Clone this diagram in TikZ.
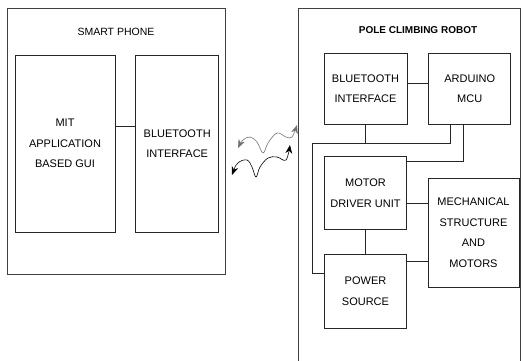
\documentclass[tikz,border=0pt]{standalone}
\usepackage{fontspec}
\setmainfont{Liberation Sans}
\usetikzlibrary{arrows.meta, positioning}

\begin{document}
\begin{tikzpicture}[x=1pt, y=-1pt,
  >={Stealth[length=3mm, width=2.4mm]}, node distance=21pt,
  frame/.style={draw=black!75, line width=0.8pt, inner sep=0pt},
  block/.style={draw=black!85, line width=0.7pt, align=center, inner sep=2pt,
                font=\fontsize{11}{20.5}\selectfont},
  heading/.style={font=\fontsize{10.5}{12}\selectfont},
  wire/.style={draw=black!85, line width=0.7pt},
  wave/.style={<->, line width=0.6pt}]
  \useasboundingbox (0,0) rectangle (523,360);
  \clip (0,0) rectangle (523,360);
  % smart phone side
  \node[frame, minimum width=218pt, minimum height=266pt] (phone) at (116,141) {};
  \node[heading] (phoneT) at (116,32) {SMART PHONE};
  \node[block, minimum width=100pt, minimum height=177pt] (app) at (65,143.5)
       {MIT\\APPLICATION\\BASED GUI};
  \node[block, minimum width=83pt, minimum height=177pt, right=20pt of app] (btp)
       {BLUETOOTH\\INTERFACE};
  \draw[wire] ([yshift=17.5pt]app.east) -- ([yshift=17.5pt]btp.west);
  % robot side
  \node[frame, minimum width=222pt, minimum height=392pt] (robot) at (409,204) {};
  \node[heading, font=\fontsize{10}{12}\selectfont\bfseries] (robotT) at (418,30)
       {POLE CLIMBING ROBOT};
  \node[block, minimum width=83pt, minimum height=71pt] (bt) at (365.5,88.5)
       {BLUETOOTH\\INTERFACE};
  \node[block, minimum width=82pt, minimum height=71pt, right=of bt] (mcu)
       {ARDUINO\\MCU};
  \node[block, minimum width=82pt, minimum height=73pt, below=32pt of bt] (drv)
       {MOTOR\\DRIVER UNIT};
  \node[block, minimum width=82pt, minimum height=74pt, below=24pt of drv] (pwr)
       {POWER\\SOURCE};
  \node[block, minimum width=91pt, minimum height=109pt] (mech) at (473.5,232.5)
       {MECHANICAL\\STRUCTURE\\AND\\MOTORS};
  \coordinate (bus) at (312,143);
  \draw[wire] ([yshift=5.5pt]bt.east) -- ([yshift=5.5pt]mcu.west);
  \draw[wire] (bt.south) -- (bt.south |- bus);
  \draw[wire] ([xshift=-19pt]mcu.south) |- (bus) |- ([yshift=18pt]pwr.west);
  \draw[wire] ([xshift=-6pt]mcu.south) |- ([yshift=31.5pt]drv.east);
  \draw[wire] ([yshift=-10.5pt]drv.east) coordinate (d1) -- (d1 -| mech.west);
  \draw[wire] (drv.south) -- (pwr.north);
  \draw[wire] ([yshift=30pt]pwr.east) coordinate (p1) -- (p1 -| mech.west);
  % wireless link
  \draw[wave, black!55] plot[smooth, tension=0.6] coordinates
       {(238,148) (243,140) (250,137) (257,142) (263,153) (268,143)
        (277,133) (286,137) (292,137) (297,125)};
  \draw[wave] plot[smooth, tension=0.6] coordinates
       {(232,175) (238,163) (247,160) (252,167) (256,177) (260,167)
        (268,158) (277,157) (286,160) (290,145)};
\end{tikzpicture}
\end{document}
